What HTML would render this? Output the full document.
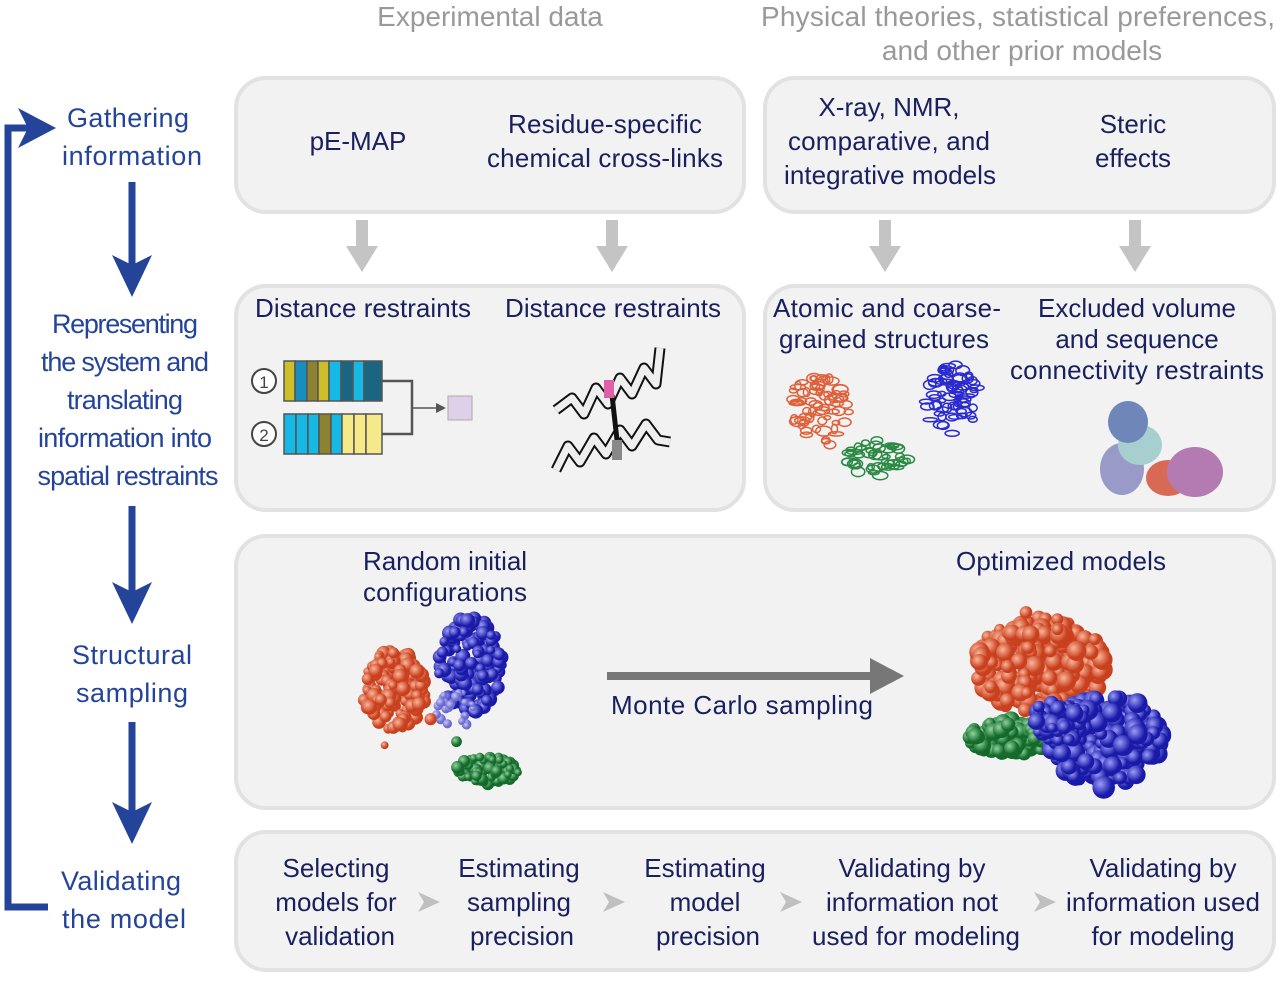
<!DOCTYPE html>
<html><head><meta charset="utf-8"><style>
body{margin:0;background:#fff}
svg text{font-family:"Liberation Sans",sans-serif}
</style></head><body>
<svg id="s" width="1280" height="977" viewBox="0 0 1280 977" xmlns="http://www.w3.org/2000/svg">
<defs>
<radialGradient id="gr" cx="35%" cy="35%"><stop offset="0" stop-color="#fbb59a"/><stop offset="1" stop-color="#c8401e"/></radialGradient>
<radialGradient id="gb" cx="35%" cy="35%"><stop offset="0" stop-color="#9a9cf8"/><stop offset="1" stop-color="#1a1aa8"/></radialGradient>
<radialGradient id="gl" cx="35%" cy="35%"><stop offset="0" stop-color="#c8caf8"/><stop offset="1" stop-color="#6a6ad0"/></radialGradient>
<radialGradient id="gg" cx="35%" cy="35%"><stop offset="0" stop-color="#8fd39f"/><stop offset="1" stop-color="#146a2a"/></radialGradient>
</defs>
<text x="490" y="26" font-size="28" fill="#999" text-anchor="middle">Experimental data</text>
<text x="1018" y="26" font-size="28" fill="#999" text-anchor="middle" textLength="514">Physical theories, statistical preferences,</text>
<text x="1022" y="60" font-size="28" fill="#999" text-anchor="middle">and other prior models</text>

<g fill="#f1f2f1" stroke="#e1e2e1" stroke-width="4">
<rect x="236" y="78" width="508" height="134" rx="30"/>
<rect x="765" y="78" width="509" height="134" rx="30"/>
<rect x="236" y="286" width="508" height="224" rx="30"/>
<rect x="765" y="286" width="509" height="224" rx="30"/>
<rect x="236" y="536" width="1038" height="272" rx="30"/>
<rect x="236" y="832" width="1038" height="138" rx="30"/>
</g>

<g fill="#24449a" font-size="27" text-anchor="middle">
<text x="128" y="127" textLength="122">Gathering</text><text x="132" y="165" textLength="140">information</text>
<text x="125" y="333" textLength="146">Representing</text><text x="125" y="371" textLength="168">the system and</text>
<text x="125" y="409" textLength="116">translating</text><text x="125" y="447" textLength="174">information into</text>
<text x="128" y="485" textLength="181">spatial restraints</text>
<text x="132" y="664" textLength="120">Structural</text><text x="132" y="702" textLength="112">sampling</text>
<text x="121" y="890" textLength="120">Validating</text><text x="124" y="928" textLength="124">the model</text>
</g>
<g stroke="#24449a" stroke-width="7" fill="none">
<line x1="132" y1="182" x2="132" y2="265"/>
<line x1="132" y1="506" x2="132" y2="592"/>
<line x1="132" y1="722" x2="132" y2="812"/>
<polyline points="48,907 8,907 8,128 30,128"/>
</g>
<g fill="#24449a">
<polygon points="112,255 132,297 152,255 132,265"/>
<polygon points="112,582 132,624 152,582 132,592"/>
<polygon points="112,802 132,844 152,802 132,812"/>
<polygon points="18,108 56,128 18,148 28,128"/>
</g>

<g fill="#1a1f5e" font-size="26" text-anchor="middle">
<text x="358" y="150">pE-MAP</text>
<text x="605" y="133" textLength="194">Residue-specific</text><text x="605" y="167" textLength="236">chemical cross-links</text>
<text x="889" y="116">X-ray, NMR,</text><text x="889" y="150" textLength="202">comparative, and</text><text x="890" y="184" textLength="212">integrative models</text>
<text x="1133" y="133">Steric</text><text x="1133" y="167">effects</text>
<text x="363" y="317" textLength="216">Distance restraints</text>
<text x="613" y="317" textLength="216">Distance restraints</text>
<text x="887" y="317" textLength="228">Atomic and coarse-</text><text x="884" y="348" textLength="210">grained structures</text>
<text x="1137" y="317" textLength="198">Excluded volume</text><text x="1137" y="348">and sequence</text><text x="1137" y="379" textLength="254">connectivity restraints</text>
<text x="445" y="570" textLength="164">Random initial</text><text x="445" y="601" textLength="164">configurations</text>
<text x="1061" y="570" textLength="210">Optimized models</text>
<text x="742" y="714" textLength="262">Monte Carlo sampling</text>
<text x="336" y="877">Selecting</text><text x="336" y="911">models for</text><text x="340" y="945">validation</text>
<text x="519" y="877">Estimating</text><text x="519" y="911">sampling</text><text x="522" y="945">precision</text>
<text x="705" y="877">Estimating</text><text x="705" y="911">model</text><text x="708" y="945">precision</text>
<text x="912" y="877">Validating by</text><text x="912" y="911">information not</text><text x="916" y="945" textLength="208">used for modeling</text>
<text x="1163" y="877">Validating by</text><text x="1163" y="911" textLength="194">information used</text><text x="1163" y="945">for modeling</text>
</g>

<g fill="#c4c4c4">
<g id="da"><rect x="356" y="220" width="12" height="30"/><polygon points="346,246 362,272 378,246"/></g>
<use href="#da" x="250"/><use href="#da" x="523"/><use href="#da" x="773"/>
</g>
<g fill="#c0c0c0">
<polygon points="418,892 440,902 418,912 424,902"/>
<polygon points="603,892 625,902 603,912 609,902"/>
<polygon points="780,892 802,902 780,912 786,902"/>
<polygon points="1034,892 1056,902 1034,912 1040,902"/>
</g>
<rect x="607" y="672" width="270" height="8" fill="#777"/>
<polygon points="870,658 904,676 870,694" fill="#777"/>

<g stroke="#555" stroke-width="1.5">
<rect x="284" y="361" width="11" height="40" fill="#cdbf2b"/><rect x="295" y="361" width="12" height="40" fill="#168fbf"/>
<rect x="307" y="361" width="11" height="40" fill="#8c8232"/><rect x="318" y="361" width="11" height="40" fill="#cdbf2b"/>
<rect x="329" y="361" width="12" height="40" fill="#16b8e6"/><rect x="341" y="361" width="12" height="40" fill="#1a6580"/>
<rect x="353" y="361" width="11" height="40" fill="#16b8e6"/><rect x="364" y="361" width="18" height="40" fill="#1a6580"/>
<rect x="284" y="414" width="12" height="40" fill="#16b8e6"/><rect x="296" y="414" width="12" height="40" fill="#16b8e6"/>
<rect x="308" y="414" width="11" height="40" fill="#16b8e6"/><rect x="319" y="414" width="12" height="40" fill="#8c8232"/>
<rect x="331" y="414" width="11" height="40" fill="#16b8e6"/><rect x="342" y="414" width="12" height="40" fill="#f5e98a"/>
<rect x="354" y="414" width="12" height="40" fill="#f5e98a"/><rect x="366" y="414" width="16" height="40" fill="#f5e98a"/>
</g>
<polyline points="382,381 412,381 412,434 382,434" fill="none" stroke="#555" stroke-width="2.5"/>
<line x1="412" y1="408" x2="438" y2="408" stroke="#555" stroke-width="1.5"/>
<polygon points="436,403 446,408 436,413" fill="#555"/>
<rect x="448" y="396" width="24" height="24" fill="#ddd0e8" stroke="#aaa"/>
<g fill="#fff" stroke="#444" stroke-width="2"><circle cx="264" cy="381" r="12"/><circle cx="264" cy="434" r="12"/></g>
<text x="264" y="388" font-size="17" text-anchor="middle" fill="#444">1</text>
<text x="264" y="441" font-size="17" text-anchor="middle" fill="#444">2</text>

<!-- helices -->
<g fill="none" stroke-linejoin="round">
<polyline points="556,410 572,398 584,414 596,388 608,404 620,378 632,394 644,368 656,384 660,348" stroke="#111" stroke-width="11"/>
<polyline points="556,410 572,398 584,414 596,388 608,404 620,378 632,394 644,368 656,384 660,348" stroke="#eee" stroke-width="7"/>
<polyline points="556,470 568,446 580,462 594,438 606,454 620,430 632,446 646,424 658,440 670,442" stroke="#111" stroke-width="11"/>
<polyline points="556,470 568,446 580,462 594,438 606,454 620,430 632,446 646,424 658,440 670,442" stroke="#eee" stroke-width="7"/>
</g>
<line x1="612" y1="395" x2="617" y2="440" stroke="#111" stroke-width="5"/>
<rect x="604" y="380" width="10" height="18" fill="#e060a8"/>
<rect x="612" y="440" width="10" height="20" fill="#888"/>

<g id="ribbons"></g>
<ellipse cx="1168" cy="478" rx="22" ry="18" fill="#d86a55"/>
<ellipse cx="1195" cy="472" rx="28" ry="25" fill="#b47ab2"/>
<ellipse cx="1122" cy="469" rx="22" ry="26" fill="#9a9ac8"/>
<ellipse cx="1140" cy="445" rx="22" ry="20" fill="#a8cfcf"/>
<ellipse cx="1128" cy="422" rx="20" ry="21" fill="#6f86b8"/>
<g id="spheres"></g>
</svg>
<script>
var seed=7;function r(){seed=(seed*16807)%2147483647;return (seed-1)/2147483646;}
var NS="http://www.w3.org/2000/svg",g=document.getElementById("spheres"),rb=document.getElementById("ribbons");
function blob(cx,cy,rx,ry,n,rad,fill){for(var i=0;i<n;i++){var a=r()*6.283,d=Math.sqrt(r());var c=document.createElementNS(NS,"circle");c.setAttribute("cx",cx+Math.cos(a)*d*rx);c.setAttribute("cy",cy+Math.sin(a)*d*ry);c.setAttribute("r",rad*(0.7+r()*0.6));c.setAttribute("fill","url(#"+fill+")");g.appendChild(c);}}
function rib(cx,cy,rx,ry,n,col){for(var i=0;i<n;i++){var a=r()*6.283,d=Math.sqrt(r());var c=document.createElementNS(NS,"ellipse");c.setAttribute("cx",cx+Math.cos(a)*d*rx);c.setAttribute("cy",cy+Math.sin(a)*d*ry);c.setAttribute("rx",3+r()*5);c.setAttribute("ry",2+r()*3);c.setAttribute("fill","none");c.setAttribute("stroke",col);c.setAttribute("stroke-width","1.5");rb.appendChild(c);}}
rib(818,412,32,36,70,"#e0603a");rib(952,400,28,36,70,"#2a2ad0");rib(878,458,32,18,45,"#2a8a44");
blob(395,690,32,40,160,6,"gr");blob(470,665,32,48,160,6,"gb");blob(455,710,20,20,25,4,"gl");
blob(488,770,32,14,90,5,"gg");
blob(384,746,2,2,1,5,"gr");blob(430,720,2,2,1,5,"gr");blob(456,740,2,2,1,5,"gg");
blob(1040,665,65,48,260,8,"gr");blob(1010,738,42,18,120,7,"gg");blob(1105,740,60,44,260,8,"gb");blob(1060,720,28,22,60,7,"gb");
blob(1025,615,3,3,1,9,"gr");blob(1104,788,3,3,1,9,"gb");
</script>
</body></html>
